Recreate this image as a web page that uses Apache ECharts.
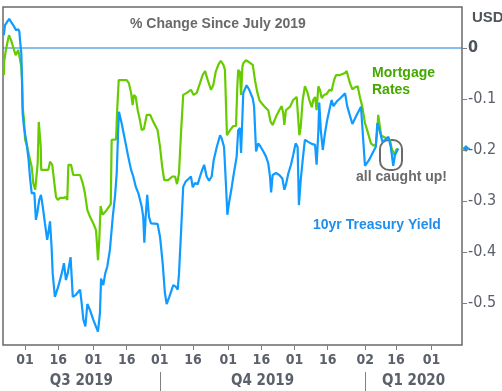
<!DOCTYPE html>
<html><head><meta charset="utf-8">
<script src="https://cdn.jsdelivr.net/npm/echarts@6/dist/echarts.min.js"></script>
<style>html,body{margin:0;padding:0;background:#fff}#c{width:502px;height:391px}</style>
</head><body><div id="c"></div>
<script>
// Day offsets are counted from this date
const baseDate = '2019-08-01';

// 10yr Treasury yield, % change since July 2019
const treasuryDay = [-9.6,-9.1,-7.2,-5.4,-4.1,-3.1,-2.6,-2.3,-1.7,-1.4,-1.1,-0.5,0.7,1.6,2.2,3.0,4.2,4.9,5.5,6.4,7.2,8.0,9.0,10.0,10.5,11.3,11.6,12.0,12.5,13.5,15.0,16.6,17.6,18.5,19.3,20.0,20.6,21.6,23.0,24.9,25.6,26.4,27.3,28.2,29.4,30.9,33.0,33.9,34.4,35.4,36.3,37.2,38.4,39.7,40.7,41.5,42.1,42.5,43.7,45.2,46.7,48.0,49.0,50.1,51.3,52.8,53.5,54.0,54.6,55.3,56.1,57.0,60.0,61.1,62.3,63.3,64.1,65.3,67.1,68.2,69.1,69.7,70.6,71.6,72.7,74.2,75.1,75.9,76.9,78.2,79.2,80.2,81.1,82.2,83.3,84.5,85.4,86.8,88.3,89.0,90.1,91.0,91.6,92.3,93.6,94.3,95.8,96.5,97.3,97.8,98.4,98.8,100.3,101.5,103.1,103.7,104.6,105.6,106.7,107.9,109.1,110.1,110.9,111.4,112.1,113.6,115.1,116.5,117.4,118.1,119.2,120.4,121.4,122.5,123.4,124.0,124.8,125.7,126.7,128.2,129.8,131.3,132.0,132.8,133.2,133.9,134.8,135.8,136.8,138.1,138.8,139.6,141.1,142.6,144.9,145.9,146.7,148.2,150.2,152.1,152.7,153.9,155.7,157.7,158.8,159.5,160.7,161.8,163.0,164.5,165.6,166.7,167.5,168.3,169.0];
const treasuryPct = [0.025,0.045,0.057,0.045,0.035,0.037,0.032,0.016,-0.010,-0.063,-0.128,-0.155,-0.187,-0.220,-0.253,-0.285,-0.284,-0.337,-0.324,-0.298,-0.288,-0.311,-0.344,-0.376,-0.363,-0.340,-0.363,-0.390,-0.442,-0.488,-0.468,-0.442,-0.422,-0.455,-0.442,-0.425,-0.410,-0.488,-0.484,-0.474,-0.500,-0.533,-0.546,-0.502,-0.514,-0.533,-0.556,-0.520,-0.452,-0.465,-0.442,-0.429,-0.396,-0.331,-0.292,-0.245,-0.167,-0.125,-0.147,-0.180,-0.213,-0.239,-0.252,-0.272,-0.285,-0.311,-0.331,-0.382,-0.331,-0.288,-0.331,-0.344,-0.345,-0.370,-0.422,-0.480,-0.502,-0.488,-0.465,-0.468,-0.474,-0.442,-0.363,-0.272,-0.262,-0.256,-0.252,-0.273,-0.265,-0.267,-0.252,-0.239,-0.229,-0.252,-0.260,-0.252,-0.220,-0.194,-0.171,-0.177,-0.194,-0.272,-0.327,-0.305,-0.272,-0.252,-0.213,-0.161,-0.157,-0.206,-0.206,-0.088,-0.073,-0.082,-0.099,-0.115,-0.203,-0.187,-0.194,-0.203,-0.213,-0.226,-0.252,-0.283,-0.249,-0.245,-0.249,-0.256,-0.278,-0.268,-0.246,-0.229,-0.210,-0.187,-0.194,-0.308,-0.259,-0.220,-0.180,-0.184,-0.188,-0.190,-0.229,-0.164,-0.107,-0.161,-0.200,-0.167,-0.141,-0.115,-0.102,-0.114,-0.105,-0.099,-0.089,-0.115,-0.115,-0.149,-0.131,-0.115,-0.115,-0.231,-0.220,-0.203,-0.194,-0.147,-0.164,-0.184,-0.180,-0.174,-0.194,-0.231,-0.210,-0.203,-0.197];

// Mortgage rates, % change since July 2019
const mortgageDay = [-9.6,-9.5,-8.7,-8.1,-7.3,-6.4,-5.4,-4.3,-3.1,-2.3,-1.7,-1.4,-1.1,-0.5,0.0,1.0,1.9,3.0,3.7,4.6,5.2,5.7,6.2,6.7,7.1,7.3,10.5,11.3,12.3,13.1,14.0,14.8,15.8,17.3,18.4,19.1,19.6,20.8,21.8,24.9,26.1,27.1,28.2,29.4,30.9,32.1,32.6,33.0,33.6,34.2,35.1,36.9,38.8,39.2,41.2,41.7,42.4,46.0,47.0,48.0,48.7,49.3,50.1,51.0,52.0,52.8,53.8,55.1,56.6,58.1,60.0,61.1,62.1,63.0,64.8,66.7,67.9,68.8,69.7,70.6,71.6,73.2,75.1,76.3,77.7,79.2,80.4,81.5,82.7,84.2,85.2,86.3,87.5,88.6,89.8,90.5,91.0,91.4,92.8,94.3,95.5,96.1,96.5,97.3,97.8,98.4,98.8,100.0,101.5,103.1,104.1,105.1,106.1,107.4,109.1,110.1,111.2,112.1,113.6,115.1,116.2,116.9,117.4,118.1,120.0,121.4,123.0,123.7,124.2,124.8,125.7,126.7,127.8,128.7,129.8,130.5,131.3,132.0,132.8,133.5,134.3,135.4,136.6,137.8,138.8,139.9,140.8,142.6,144.9,145.6,147.1,148.2,149.4,150.6,151.7,152.7,153.9,155.1,156.6,157.7,158.8,159.5,159.9,160.6,161.2,162.2,163.7,165.2,166.0,167.2,168.0,168.7];
const mortgagePct = [-0.053,-0.027,-0.004,0.009,0.025,0.016,0.002,-0.014,-0.004,-0.002,-0.037,-0.059,-0.115,-0.141,-0.180,-0.194,-0.213,-0.233,-0.265,-0.278,-0.275,-0.226,-0.145,-0.145,-0.194,-0.239,-0.239,-0.223,-0.229,-0.259,-0.292,-0.298,-0.294,-0.294,-0.292,-0.298,-0.229,-0.229,-0.249,-0.249,-0.265,-0.285,-0.318,-0.331,-0.344,-0.357,-0.386,-0.416,-0.376,-0.310,-0.327,-0.318,-0.306,-0.180,-0.179,-0.122,-0.063,-0.063,-0.069,-0.088,-0.112,-0.092,-0.096,-0.122,-0.141,-0.161,-0.159,-0.131,-0.131,-0.145,-0.161,-0.194,-0.233,-0.259,-0.259,-0.252,-0.252,-0.267,-0.245,-0.167,-0.092,-0.088,-0.082,-0.092,-0.088,-0.069,-0.053,-0.045,-0.063,-0.082,-0.073,-0.047,-0.033,-0.025,-0.033,-0.043,-0.115,-0.171,-0.161,-0.153,-0.153,-0.076,-0.043,-0.047,-0.092,-0.037,-0.030,-0.024,-0.028,-0.033,-0.063,-0.086,-0.102,-0.110,-0.118,-0.122,-0.145,-0.151,-0.135,-0.122,-0.114,-0.128,-0.151,-0.122,-0.115,-0.102,-0.096,-0.141,-0.171,-0.155,-0.102,-0.075,-0.086,-0.102,-0.116,-0.102,-0.096,-0.122,-0.075,-0.082,-0.098,-0.092,-0.090,-0.082,-0.084,-0.063,-0.053,-0.053,-0.049,-0.045,-0.069,-0.081,-0.077,-0.075,-0.098,-0.115,-0.147,-0.164,-0.187,-0.191,-0.191,-0.161,-0.131,-0.131,-0.171,-0.174,-0.177,-0.180,-0.197,-0.210,-0.200,-0.197];

// Axis ticks
const tickDates = ['2019-08-01','2019-08-16','2019-09-01','2019-09-16','2019-10-01','2019-10-16','2019-11-01','2019-11-16','2019-12-01','2019-12-16','2020-01-02','2020-01-16','2020-02-01'];
const quarterNames = ['Q3 2019','Q4 2019','Q1 2020'];
const quarterStarts = ['2019-07-01','2019-10-01','2020-01-02'];
const yTicks = [0,-0.1,-0.2,-0.3,-0.4,-0.5];
const zeroLevel = 0;
const xRange = [-10.0, 197.84];
const yRange = [-0.5824, 0.0804];

function dayOf(s){
  const p = s.split('-').map(Number), b = baseDate.split('-').map(Number);
  return Math.round((Date.UTC(p[0],p[1]-1,p[2]) - Date.UTC(b[0],b[1]-1,b[2]))/86400000);
}
const tickDays = tickDates.map(dayOf);
const tickLabelMap = {};
tickDates.forEach((d,i)=>{ tickLabelMap[tickDays[i]] = d.slice(8,10); });
const qStart = quarterStarts.map(dayOf);
const qCenters = qStart.map((s,i)=>{
  const a = Math.max(s, xRange[0]);
  const b = i < qStart.length-1 ? qStart[i+1] : xRange[1];
  return (a+b)/2;
});
const qLabelMap = {};
qCenters.forEach((c,i)=>{ qLabelMap[c.toFixed(3)] = quarterNames[i]; });
const qSeps = qStart.slice(1);

const zip = (a,b)=>a.map((v,i)=>[v,b[i]]);
const AX = '"DejaVu Sans Condensed","DejaVu Sans",sans-serif';
const TX = '"Liberation Sans",Arial,sans-serif';

const chart = echarts.init(document.getElementById('c'), null, {renderer:'canvas'});
chart.setOption({
  animation:false,
  backgroundColor:'#fff',
  grid:{left:3,right:40,top:7,bottom:46,show:true,borderColor:'#6a6a6a',borderWidth:1.5,backgroundColor:'transparent'},
  xAxis:[{
    type:'value',min:xRange[0],max:xRange[1],
    splitLine:{show:false},axisLine:{show:false,onZero:false},
    axisTick:{show:true,customValues:tickDays,length:5,lineStyle:{color:'#808080',width:1}},
    axisLabel:{customValues:tickDays,margin:8,formatter:v=>tickLabelMap[Math.round(v)]||'',
      fontFamily:AX,fontWeight:'bold',fontSize:14,color:'#5b606b'}
  },{
    type:'value',min:xRange[0],max:xRange[1],position:'bottom',offset:27,
    splitLine:{show:false},axisLine:{show:false,onZero:false},
    axisTick:{show:true,customValues:qSeps,length:20,lineStyle:{color:'#808080',width:1}},
    axisLabel:{customValues:qCenters,margin:2,formatter:v=>qLabelMap[v.toFixed(3)]||'',
      fontFamily:AX,fontWeight:'bold',fontSize:15,color:'#5b606b'}
  }],
  yAxis:{
    type:'value',position:'right',min:yRange[0],max:yRange[1],
    splitLine:{show:false},axisLine:{show:false,onZero:false},
    axisTick:{show:true,customValues:yTicks,length:5,lineStyle:{color:'#808080'}},
    axisLabel:{customValues:yTicks,margin:6,
      formatter:v=>Math.abs(v)<1e-9?'{z|0}':'{n|'+v.toFixed(1)+'}',
      rich:{z:{fontFamily:AX,fontWeight:'bold',fontSize:16,color:'#4f535b'},
            n:{fontFamily:AX,fontSize:16,color:'#5b606b'}}}
  },
  series:[{
    name:'Zero',type:'line',showSymbol:false,symbol:'none',silent:true,
    data:[[xRange[0],zeroLevel],[xRange[1],zeroLevel]],
    lineStyle:{color:'#1580dc',width:1.2},z:1
  },{
    name:'Mortgage Rates',type:'line',showSymbol:false,symbol:'none',
    data:zip(mortgageDay,mortgagePct),
    lineStyle:{color:'#66cc00',width:2.2},itemStyle:{color:'#66cc00'},z:2
  },{
    name:'10yr Treasury Yield',type:'line',showSymbol:false,symbol:'none',
    data:zip(treasuryDay,treasuryPct),
    lineStyle:{color:'#0f9bff',width:2.2},itemStyle:{color:'#0f9bff'},z:3
  }]
});

const yEnd = chart.convertToPixel({yAxisIndex:0}, treasuryPct[treasuryPct.length-1]);
chart.setOption({graphic:[
  {type:'text',left:130,top:17,style:{text:'% Change Since July 2019',font:'bold 14px '+TX,fill:'#696969'}},
  {type:'text',left:472,top:10,style:{text:'USD',font:'bold 15px '+TX,fill:'#4f535b'}},
  {type:'text',left:372,top:65,style:{text:'Mortgage\nRates',font:'bold 14px '+TX,fill:'#45a800',lineHeight:17}},
  {type:'text',left:313,top:218,style:{text:'10yr Treasury Yield',font:'bold 14px '+TX,fill:'#1e8fef'}},
  {type:'text',left:356,top:170,style:{text:'all caught up!',font:'bold 14px '+TX,fill:'#6b6b6b'}},
  {type:'rect',shape:{x:380,y:140,width:22,height:30,r:9},style:{fill:'none',stroke:'#6b6b6b',lineWidth:2}},
  {type:'line',shape:{x1:462,y1:yEnd,x2:470,y2:yEnd},style:{stroke:'#66cc00',lineWidth:1.5}},
  {type:'polygon',shape:{points:[[466,yEnd-3.5],[469.5,yEnd],[466,yEnd+3.5],[462.5,yEnd]]},style:{fill:'#0f9bff'}}
]});
</script>
</body></html>
